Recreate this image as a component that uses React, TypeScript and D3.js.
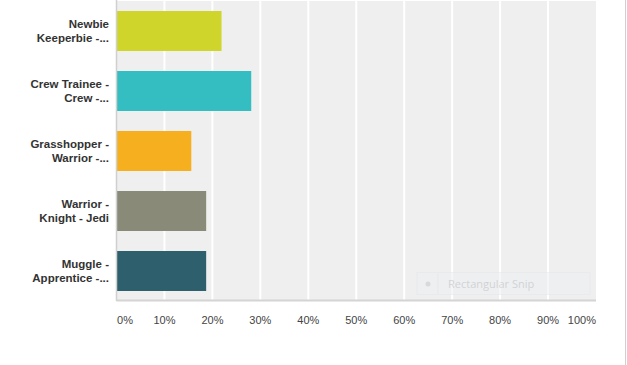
import React from "react";
import * as d3 from "d3";

const categories: string[][] = [
  ["Newbie", "Keeperbie -..."],
  ["Crew Trainee -", "Crew -..."],
  ["Grasshopper -", "Warrior -..."],
  ["Warrior -", "Knight - Jedi"],
  ["Muggle -", "Apprentice -..."],
];
const values: number[] = [21.9, 28.1, 15.6, 18.7, 18.7];
const colors: string[] = ["#d0d52b", "#35bec1", "#f6b01f", "#898a78", "#2e5f6d"];
const ticks: number[] = [0, 10, 20, 30, 40, 50, 60, 70, 80, 90, 100];

export default function App() {
  const W = 627, H = 365;
  const x = d3.scaleLinear().domain([0, 100]).range([116.5, 596]);
  const y = d3
    .scaleBand<number>()
    .domain(d3.range(categories.length))
    .range([1, 301])
    .paddingInner(1 / 3)
    .paddingOuter(1 / 6);
  const font = "Arial, 'Liberation Sans', Helvetica, sans-serif";
  return (
    <svg
      width={W}
      height={H}
      style={{ position: "absolute", left: 0, top: 0, background: "#fff" }}
      fontFamily={font}
    >
      <rect x={x(0)} y={1} width={x(100) - x(0)} height={299} fill="#efefef" />
      {ticks.slice(1, -1).map((t) => (
        <line key={t} x1={x(t)} x2={x(t)} y1={1} y2={300} stroke="#fff" strokeWidth={2} />
      ))}
      {values.map((v, i) => (
        <rect
          key={i}
          x={x(0)}
          y={y(i)!}
          width={x(v) - x(0)}
          height={y.bandwidth()}
          fill={colors[i]}
        />
      ))}
      <line x1={x(0)} x2={x(0)} y1={0} y2={301} stroke="#d0d0d0" strokeWidth={1.5} />
      <line x1={x(0)} x2={x(100)} y1={300.5} y2={300.5} stroke="#d4d4d4" strokeWidth={2} />
      {categories.map((lines, i) => {
        const cy = y(i)! + y.bandwidth() / 2;
        return (
          <text
            key={i}
            textAnchor="end"
            fontSize={11.5}
            fontWeight="bold"
            fill="#333"
          >
            {lines.map((l, j) => (
              <tspan key={j} x={109} y={cy - 7 + j * 14 + 4}>
                {l}
              </tspan>
            ))}
          </text>
        );
      })}
      {ticks.map((t, i) => (
        <text
          key={t}
          x={i === 0 ? x(t) + 0.5 : i === ticks.length - 1 ? x(t) : x(t)}
          y={324}
          textAnchor={i === 0 ? "start" : i === ticks.length - 1 ? "end" : "middle"}
          fontSize={11}
          fill="#444"
        >
          {t}%
        </text>
      ))}
      <g opacity={0.55}>
        <rect x={417} y={272.5} width={173} height={22} fill="#eef0f3" stroke="#e3e6ea" />
        <circle cx={428} cy={284} r={2.5} fill="#c8c8c8" />
        <line x1={438} x2={438} y1={273} y2={294} stroke="#e0e3e6" />
        <text x={448} y={288} fontSize={11} fill="#b8bcc0" fontFamily="'Segoe UI', 'Open Sans', sans-serif">
          Rectangular Snip
        </text>
      </g>
      <line x1={625.5} x2={625.5} y1={0} y2={H} stroke="#d0d0d0" strokeWidth={1} />
    </svg>
  );
}
